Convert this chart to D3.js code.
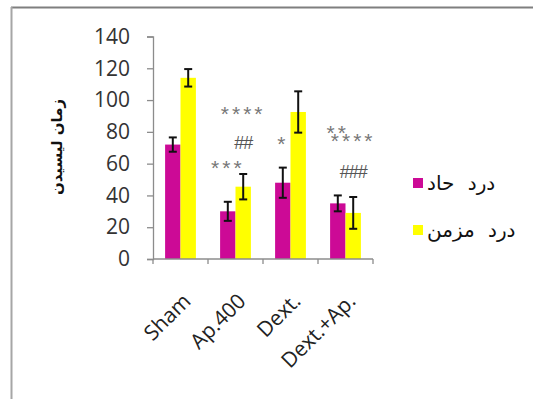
<!DOCTYPE html>
<html>
<head>
<meta charset="utf-8">
<script src="https://cdn.jsdelivr.net/npm/d3@7"></script>
<style>
  body { margin: 0; background: #fff; }
  svg { display: block; }
</style>
</head>
<body>
<div id="chart"></div>
<script>
// chart values
var categories = ["Sham", "Ap.400", "Dext.", "Dext.+Ap."];
var seriesNames = ["درد حاد", "درد مزمن"];
var seriesColors = ["#cc0a96", "#ffff00"];
var acuteValues = [72, 30, 48, 35];
var acuteErrors = [4.5, 6, 9.5, 5];
var chronicValues = [114, 45.5, 92.5, 29];
var chronicErrors = [5.5, 8, 13, 10];
var yTicks = [0, 20, 40, 60, 80, 100, 120, 140];
var yTitle = "زمان لیسیدن";
// significance marks: category, series index, value level
var marks = [
    {cat: "Ap.400", s: 1, v: 95, text: "****"},
    {cat: "Ap.400", s: 1, v: 73, text: "##"},
    {cat: "Ap.400", s: 0, v: 61, text: "***"},
    {cat: "Dext.", s: 0, v: 76, text: "*"},
    {cat: "Dext.+Ap.", s: 0, v: 83, text: "**"},
    {cat: "Dext.+Ap.", s: 1, v: 78, text: "****"},
    {cat: "Dext.+Ap.", s: 1, v: 55, text: "###"}
];

var width = 533, height = 399;
var plot = {left: 153, right: 373, top: 36.5, bottom: 259};

var svg = d3.select("#chart").append("svg")
    .attr("width", width)
    .attr("height", height);

// outer frame (top and left edges only are visible)
svg.append("line").attr("x1", 11).attr("x2", width).attr("y1", 7.5).attr("y2", 7.5)
    .attr("stroke", "#7f7f7f").attr("stroke-width", 2);
svg.append("line").attr("x1", 11.5).attr("x2", 11.5).attr("y1", 7).attr("y2", height)
    .attr("stroke", "#a6a6a6").attr("stroke-width", 2);

var x = d3.scaleBand().domain(categories)
    .range([plot.left, plot.right])
    .paddingInner(0.44).paddingOuter(0.22);
var xs = d3.scaleBand().domain([0, 1]).range([0, x.bandwidth()]);
var y = d3.scaleLinear().domain([0, 140]).range([plot.bottom, plot.top]);

var data = categories.map(function(c, i) {
    return {cat: c, vals: [
        {s: 0, v: acuteValues[i], e: acuteErrors[i]},
        {s: 1, v: chronicValues[i], e: chronicErrors[i]}
    ]};
});

// y axis
var yAxis = svg.append("g")
    .attr("transform", "translate(" + plot.left + ",0)")
    .call(d3.axisLeft(y).tickValues(yTicks).tickSize(6).tickSizeOuter(6).tickPadding(17));
yAxis.selectAll("path, line").attr("stroke", "#8c8c8c").attr("stroke-width", 1.3);
yAxis.selectAll("text")
    .attr("font-family", "Open Sans, Liberation Sans, sans-serif")
    .attr("font-size", 21)
    .attr("fill", "#333");

// bars
var groups = svg.selectAll(".grp").data(data).enter().append("g")
    .attr("transform", function(d) { return "translate(" + x(d.cat) + ",0)"; });

groups.selectAll("rect").data(function(d) { return d.vals; }).enter().append("rect")
    .attr("x", function(d) { return xs(d.s); })
    .attr("y", function(d) { return y(d.v); })
    .attr("width", xs.bandwidth())
    .attr("height", function(d) { return y(0) - y(d.v); })
    .attr("fill", function(d) { return seriesColors[d.s]; });

// error bars
var eb = groups.selectAll(".err").data(function(d) { return d.vals; }).enter().append("g")
    .attr("stroke", "#111").attr("stroke-width", 2);
var capW = 4;
eb.append("line")
    .attr("x1", function(d) { return xs(d.s) + xs.bandwidth() / 2; })
    .attr("x2", function(d) { return xs(d.s) + xs.bandwidth() / 2; })
    .attr("y1", function(d) { return y(d.v - d.e); })
    .attr("y2", function(d) { return y(d.v + d.e); });
eb.append("line")
    .attr("x1", function(d) { return xs(d.s) + xs.bandwidth() / 2 - capW; })
    .attr("x2", function(d) { return xs(d.s) + xs.bandwidth() / 2 + capW; })
    .attr("y1", function(d) { return y(d.v + d.e); })
    .attr("y2", function(d) { return y(d.v + d.e); });
eb.append("line")
    .attr("x1", function(d) { return xs(d.s) + xs.bandwidth() / 2 - capW; })
    .attr("x2", function(d) { return xs(d.s) + xs.bandwidth() / 2 + capW; })
    .attr("y1", function(d) { return y(d.v - d.e); })
    .attr("y2", function(d) { return y(d.v - d.e); });

// x axis line with ticks at the category borders
var xAxis = svg.append("g").attr("stroke", "#8c8c8c").attr("stroke-width", 1.3);
xAxis.append("line")
    .attr("x1", plot.left).attr("x2", plot.right)
    .attr("y1", y(0)).attr("y2", y(0));
d3.range(categories.length + 1).forEach(function(i) {
    var bx = plot.left + i * x.step();
    xAxis.append("line").attr("x1", bx).attr("x2", bx)
        .attr("y1", y(0)).attr("y2", y(0) + 5);
});

// rotated category labels
svg.selectAll(".xlab").data(categories).enter().append("text")
    .attr("transform", function(d) {
        return "translate(" + (x(d) + x.bandwidth() / 2 + 1) + "," + (y(0) + 33) + ") rotate(-45)";
    })
    .attr("text-anchor", "end")
    .attr("dy", "0.7em")
    .attr("font-family", "Open Sans, Liberation Sans, sans-serif")
    .attr("font-size", 21)
    .attr("fill", "#222")
    .text(function(d) { return d; });

// significance marks
svg.selectAll(".mark").data(marks).enter().append("text")
    .attr("x", function(d) { return x(d.cat) + xs(d.s) + xs.bandwidth() / 2; })
    .attr("y", function(d) { return y(d.v); })
    .attr("dy", function(d) { return d.text.charAt(0) === "*" ? "0.6em" : "0.35em"; })
    .attr("text-anchor", "middle")
    .attr("font-family", "Liberation Sans, sans-serif")
    .attr("font-size", function(d) { return d.text.charAt(0) === "*" ? 21 : 18; })
    .attr("letter-spacing", function(d) { return d.text.charAt(0) === "*" ? 3 : -1; })
    .attr("fill", function(d) { return d.text.charAt(0) === "*" ? "#777" : "#555"; })
    .text(function(d) { return d.text; });

// y axis title
svg.append("text")
    .attr("transform", "translate(57,147) rotate(-90)")
    .attr("text-anchor", "middle")
    .attr("dy", "0.35em")
    .attr("font-family", "DejaVu Sans, sans-serif")
    .attr("font-weight", "bold")
    .attr("font-size", 15)
    .attr("fill", "#111")
    .text(yTitle);

// legend
var legend = svg.selectAll(".leg").data(seriesNames).enter().append("g")
    .attr("transform", function(d, i) { return "translate(413," + (178 + i * 47) + ")"; });
legend.append("rect")
    .attr("width", 10).attr("height", 10)
    .attr("fill", function(d, i) { return seriesColors[i]; });
legend.append("text")
    .attr("x", 14).attr("y", 5)
    .attr("dy", "0.35em")
    .attr("direction", "rtl")
    .attr("text-anchor", "end")
    .attr("font-family", "DejaVu Sans, sans-serif")
    .attr("font-size", 20)
    .attr("word-spacing", 7)
    .attr("fill", "#111")
    .text(function(d) { return d; });
</script>
</body>
</html>
